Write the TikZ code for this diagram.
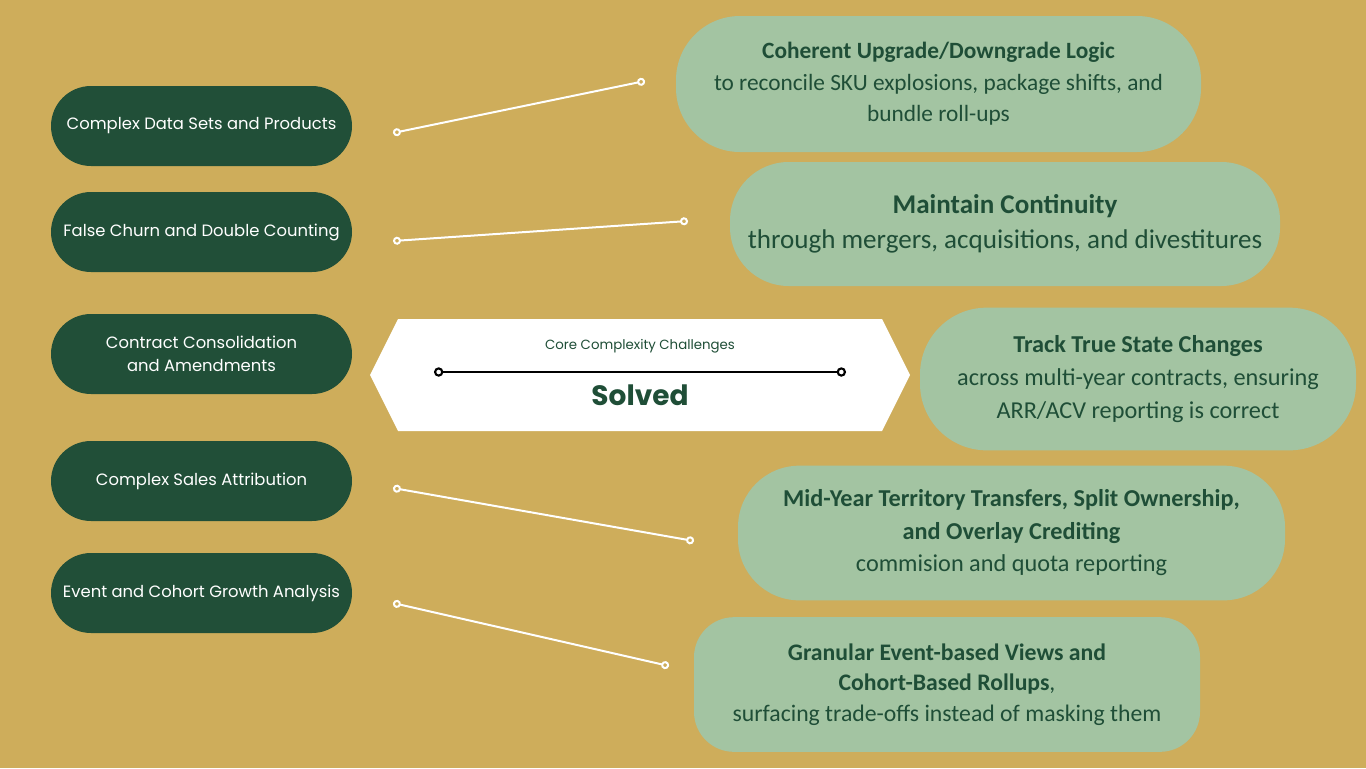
\documentclass[tikz,border=0pt]{standalone}
\usepackage{fontspec}
\setmainfont{Carlito}
\newfontfamily\popfont{Poppins}
\usetikzlibrary{arrows.meta}
\definecolor{bgsand}{HTML}{CEAD5B}
\definecolor{pine}{HTML}{214F38}
\definecolor{sage}{HTML}{A3C4A2}
\definecolor{inkgreen}{HTML}{1F4E37}
\tikzset{
  challenge/.style={fill=pine, text=white, rounded corners=30pt, minimum width=225.75pt,
    minimum height=60pt, align=center, font=\popfont\fontsize{12.3}{17}\selectfont},
  remedy/.style={fill=sage, text=inkgreen, align=center, font=\fontsize{17.5}{23.6}\selectfont},
  pin/.style={white, line width=1.5pt, {Circle[open,length=6pt,width=6pt]}-{Circle[open,length=6pt,width=6pt]}},
}
\begin{document}
\begin{tikzpicture}[x=0.75pt, y=-0.75pt]
    \fill[bgsand] (0,0) rectangle (1366,768);
    % challenges on the left
    \node[challenge] (dsets)    at (201.5,126) {Complex Data Sets and Products};
    \node[challenge] (churn)    at (201.5,232) {False Churn and Double Counting};
    \node[challenge] (contract) at (201.5,354) {Contract Consolidation\\and Amendments};
    \node[challenge] (attrib)   at (201.5,481) {Complex Sales Attribution};
    \node[challenge] (cohort)   at (201.5,593) {Event and Cohort Growth Analysis};
    % remedies on the right
    \node[remedy, minimum width=393.75pt, minimum height=102pt, rounded corners=48pt] (upgrade) at (938.5,84)
        {\textbf{Coherent Upgrade/Downgrade Logic}\\to reconcile SKU explosions, package shifts, and\\bundle roll-ups};
    \node[remedy, minimum width=412.5pt, minimum height=93pt, rounded corners=44pt,
        font=\fontsize{20.3}{26.2}\selectfont] (continuity) at (1005,224)
        {\textbf{Maintain Continuity}\\through mergers, acquisitions, and divestitures};
    \node[remedy, minimum width=327pt, minimum height=107pt, rounded corners=50pt,
        font=\fontsize{18.2}{24.7}\selectfont] (statechg) at (1138,379)
        {\textbf{Track True State Changes}\\across multi-year contracts, ensuring\\ARR/ACV reporting is correct};
    \node[remedy, minimum width=410.25pt, minimum height=101pt, rounded corners=46pt,
        font=\fontsize{18.2}{24.4}\selectfont] (territory) at (1011.5,533)
        {\textbf{Mid-Year Territory Transfers, Split Ownership,}\\\textbf{and Overlay Crediting}\\commision and quota reporting};
    \node[remedy, minimum width=379.5pt, minimum height=101pt, rounded corners=30pt,
        font=\fontsize{17.8}{22.9}\selectfont] (granular) at (947,684.5)
        {\textbf{Granular Event-based Views and}\\\textbf{Cohort-Based Rollups},\\surfacing trade-offs instead of masking them};
    % hexagon in the middle
    \fill[white] (370,375) -- (398,319) -- (882,319) -- (910,375) -- (882,431) -- (398,431) -- cycle;
    \node[text=inkgreen, font=\popfont\fontsize{10}{12}\selectfont] (corelbl) at (640,346) {Core Complexity Challenges};
    \node[text=inkgreen, font=\popfont\bfseries\fontsize{21}{24}\selectfont] (solved) at (640,395) {Solved};
    \coordinate (barL) at (434,372);
    \coordinate (barR) at (846,372);
    \draw[black, line width=1.6pt, {Circle[open,length=7pt,width=7pt]}-{Circle[open,length=7pt,width=7pt]}] (barL) -- (barR);
    % white pins
    \coordinate (dsets-pin)    at (393,133);
    \coordinate (churn-pin)    at (393,241);
    \coordinate (attrib-pin)   at (393,488);
    \coordinate (cohort-pin)   at (393,603);
    \coordinate (upgrade-pin)  at (645,81);
    \coordinate (continuity-pin) at (688,221);
    \coordinate (territory-pin)  at (694,541);
    \coordinate (granular-pin)   at (669,666);
    \draw[pin] (dsets-pin) -- (upgrade-pin);
    \draw[pin] (churn-pin) -- (continuity-pin);
    \draw[pin] (attrib-pin) -- (territory-pin);
    \draw[pin] (cohort-pin) -- (granular-pin);
\end{tikzpicture}
\end{document}
